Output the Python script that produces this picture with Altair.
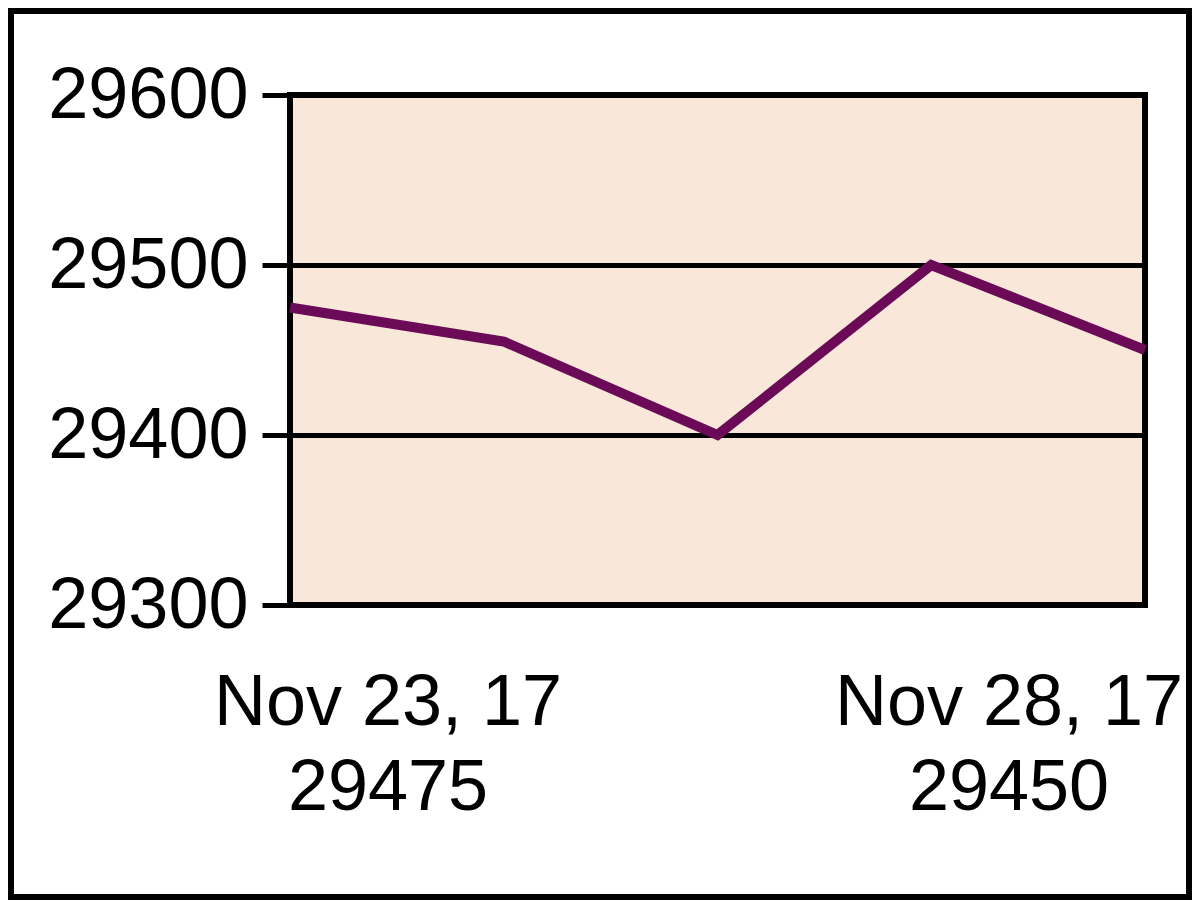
import altair as alt
import pandas as pd

# Data
idx = [0, 1, 2, 3, 4]
prices = [29475, 29455, 29400, 29500, 29450]
y_ticks = [29300, 29400, 29500, 29600]
start_label = ["Nov 23, 17", "29475"]
end_label = ["Nov 28, 17", "29450"]

df = pd.DataFrame({"i": idx, "price": prices})
ann = pd.DataFrame({
    "i": [idx[0], idx[-1]],
    "txt": [start_label, end_label],
})

FONT = "Liberation Sans"
FS = 72
W, H = 855, 510
PAD = {"left": 282, "top": 87, "right": 47, "bottom": 295}

x_scale = alt.Scale(domain=[0, 4], nice=False, zero=False)
y_scale = alt.Scale(domain=[29300, 29600], nice=False, zero=False)

line = alt.Chart(df).mark_line(color="#6B0A57", strokeWidth=10, clip=False).encode(
    x=alt.X("i:Q", scale=x_scale, axis=None),
    y=alt.Y("price:Q", scale=y_scale,
            axis=alt.Axis(values=y_ticks, title=None, domain=False,
                          tickColor="black", tickWidth=5, tickSize=28,
                          labelFont=FONT, labelFontSize=FS, labelColor="black",
                          labelPadding=14, labelLimit=0, grid=True,
                          gridColor="black", gridWidth=5, gridOpacity=1,
                          format="d")),
)

left_txt = alt.Chart(ann.iloc[[0]]).mark_text(
    font=FONT, fontSize=FS, lineHeight=85, color="black", align="center",
    baseline="alphabetic", dx=98, y=630
).encode(x=alt.X("i:Q", scale=x_scale), text="txt")

right_txt = alt.Chart(ann.iloc[[1]]).mark_text(
    font=FONT, fontSize=FS, lineHeight=85, color="black", align="center",
    baseline="alphabetic", dx=-136, y=630
).encode(x=alt.X("i:Q", scale=x_scale), text="txt")

frame = alt.Chart(df.iloc[[0]]).mark_rect(
    fill=None, stroke="black", strokeWidth=12
).encode(
    x=alt.value(-PAD["left"]), x2=alt.value(W + PAD["right"]),
    y=alt.value(-PAD["top"]), y2=alt.value(H + PAD["bottom"]),
)

chart = alt.layer(line, left_txt, right_txt, frame).properties(
    width=W, height=H, padding=PAD, autosize="none", background="white"
).configure_view(
    fill="#F9E8DA", stroke="black", strokeWidth=6
)

chart.save("out.html", embed_options={"renderer": "svg", "actions": False})
